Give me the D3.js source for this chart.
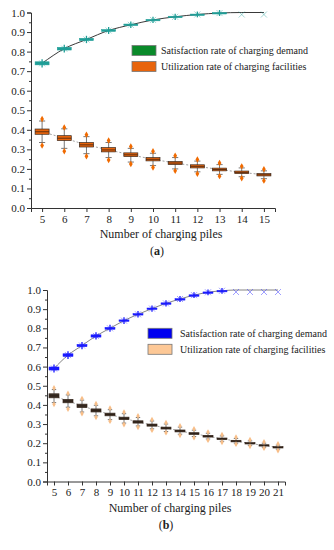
<!DOCTYPE html>
<html>
<head>
<meta charset="utf-8">
<script src="https://cdn.jsdelivr.net/npm/d3@7"></script>
<style>
  body { margin: 0; background: #fff; }
  svg { display: block; font-family: "Liberation Serif", "Times New Roman", serif; }
</style>
</head>
<body>
<svg id="chart" width="334" height="550"></svg>
<script>
// panel (a): 5..15 charging piles
const aPiles = d3.range(5, 16);
const aSat = [0.74, 0.815, 0.862, 0.908, 0.937, 0.962, 0.978, 0.99, 0.997, 1.0, 1.0];
const aSatLo = [0.732, 0.808, 0.856, 0.903, 0.933, 0.959, 0.975, 0.988, 0.995, 0.995, 0.995];
const aSatHi = [0.748, 0.822, 0.868, 0.913, 0.941, 0.965, 0.981, 0.992, 1.0, 1.0, 1.0];
const aUtil = [0.39, 0.357, 0.323, 0.297, 0.272, 0.249, 0.23, 0.213, 0.197, 0.182, 0.17];
const aUtilQ1 = [0.377, 0.345, 0.312, 0.287, 0.263, 0.241, 0.222, 0.205, 0.19, 0.176, 0.164];
const aUtilQ3 = [0.404, 0.37, 0.335, 0.309, 0.282, 0.258, 0.238, 0.221, 0.204, 0.189, 0.176];
const aUtilLo = [0.335, 0.305, 0.278, 0.258, 0.235, 0.217, 0.2, 0.185, 0.172, 0.16, 0.15];
const aUtilHi = [0.445, 0.405, 0.365, 0.335, 0.305, 0.28, 0.258, 0.24, 0.222, 0.205, 0.19];
const aUtilMin = [0.32, 0.29, 0.265, 0.245, 0.225, 0.207, 0.19, 0.175, 0.163, 0.152, 0.14];
const aUtilMax = [0.455, 0.412, 0.375, 0.345, 0.315, 0.29, 0.267, 0.248, 0.23, 0.213, 0.198];

// panel (b): 5..21 charging piles
const bPiles = d3.range(5, 22);
const bSat = [0.59, 0.66, 0.71, 0.76, 0.80, 0.84, 0.873, 0.903, 0.93, 0.953, 0.973, 0.988, 0.996, 1.0, 1.0, 1.0, 1.0];
const bSatLo = [0.582, 0.653, 0.704, 0.754, 0.795, 0.836, 0.869, 0.9, 0.927, 0.951, 0.971, 0.986, 0.994, 0.994, 0.994, 0.994, 0.994];
const bSatHi = [0.598, 0.667, 0.716, 0.766, 0.805, 0.844, 0.877, 0.906, 0.933, 0.955, 0.975, 0.99, 0.998, 1.0, 1.0, 1.0, 1.0];
const bUtil = [0.447, 0.42, 0.395, 0.371, 0.35, 0.33, 0.311, 0.295, 0.279, 0.264, 0.25, 0.236, 0.223, 0.211, 0.199, 0.188, 0.178];
const bUtilQ1 = [0.437, 0.411, 0.386, 0.363, 0.343, 0.323, 0.305, 0.289, 0.274, 0.259, 0.246, 0.232, 0.219, 0.207, 0.196, 0.185, 0.175];
const bUtilQ3 = [0.458, 0.429, 0.404, 0.379, 0.357, 0.336, 0.317, 0.3, 0.284, 0.269, 0.255, 0.241, 0.227, 0.215, 0.203, 0.192, 0.182];
const bUtilLo = [0.412, 0.388, 0.363, 0.343, 0.323, 0.305, 0.29, 0.275, 0.261, 0.247, 0.235, 0.222, 0.21, 0.2, 0.189, 0.179, 0.169];
const bUtilHi = [0.48, 0.452, 0.425, 0.398, 0.375, 0.354, 0.334, 0.316, 0.3, 0.284, 0.268, 0.252, 0.238, 0.225, 0.212, 0.2, 0.19];
const bUtilMin = [0.403, 0.378, 0.355, 0.335, 0.315, 0.298, 0.283, 0.268, 0.255, 0.241, 0.229, 0.216, 0.205, 0.195, 0.184, 0.174, 0.162];
const bUtilMax = [0.488, 0.46, 0.433, 0.406, 0.383, 0.362, 0.342, 0.323, 0.307, 0.29, 0.274, 0.258, 0.244, 0.231, 0.218, 0.206, 0.196];

const yTicks = d3.range(0, 1.01, 0.1);
const legendLabels = ["Satisfaction rate of charging demand", "Utilization rate of charging facilities"];
const xTitle = "Number of charging piles";

const svg = d3.select("#chart");

function panel(opt) {
  const g = svg.append("g");
  const x = d3.scaleLinear().domain([opt.piles[0] - 0.5, opt.piles[opt.piles.length - 1] + 0.5]).range(opt.xr);
  const y = d3.scaleLinear().domain([0, 1]).range(opt.yr);

  // axes
  const yAxis = d3.axisLeft(y).tickValues(yTicks).tickFormat(d3.format(".1f")).tickSize(4).tickPadding(2);
  const yg = g.append("g").attr("transform", `translate(${opt.xr[0]},0)`).call(yAxis);
  g.append("g").attr("transform", `translate(${opt.xr[0]},0)`)
    .call(d3.axisLeft(y).tickValues(d3.range(0.05, 1, 0.1)).tickFormat("").tickSize(2))
    .select(".domain").remove();
  const xAxis = d3.axisBottom(x).tickValues(opt.piles).tickFormat(d3.format("d")).tickSize(4).tickPadding(3);
  const xg = g.append("g").attr("transform", `translate(0,${opt.yr[0]})`).call(xAxis);
  [yg, xg].forEach(a => {
    a.attr("font-family", null);
    a.selectAll("text").attr("font-size", opt.tickFont).attr("fill", "#222");
    a.selectAll("line, path").attr("stroke", "#333");
  });
  g.selectAll(".tick line").attr("stroke", "#333");

  g.append("text").attr("x", (opt.xr[0] + opt.xr[1]) / 2 + opt.titleDx).attr("y", opt.yr[0] + 30)
    .attr("text-anchor", "middle").attr("font-size", 12).attr("fill", "#222").text(xTitle);
  g.append("text").attr("x", (opt.xr[0] + opt.xr[1]) / 2 + opt.titleDx - 4).attr("y", opt.yr[0] + 47)
    .attr("text-anchor", "middle").attr("font-size", 12).attr("fill", "#222").text("(")
    .append("tspan").attr("font-weight", "bold").text(opt.tag)
    .append("tspan").attr("font-weight", "normal").text(")");

  const bw = opt.boxW;

  // utilization lines (dashed)
  g.append("path").datum(opt.piles)
    .attr("d", d3.line().x(d => x(d)).y((d, i) => y(opt.util[i])))
    .attr("fill", "none").attr("stroke", "#888").attr("stroke-width", 0.8).attr("stroke-dasharray", "2,2");

  // utilization boxes
  const ub = g.append("g").selectAll("g").data(opt.piles).join("g");
  ub.append("line").attr("x1", d => x(d)).attr("x2", d => x(d))
    .attr("y1", (d, i) => y(opt.utilLo[i])).attr("y2", (d, i) => y(opt.utilHi[i]))
    .attr("stroke", opt.whisk).attr("stroke-width", 0.8);
  [opt.utilLo, opt.utilHi].forEach(arr => {
    ub.append("line").attr("x1", d => x(d) - bw * 0.22).attr("x2", d => x(d) + bw * 0.22)
      .attr("y1", (d, i) => y(arr[i])).attr("y2", (d, i) => y(arr[i]))
      .attr("stroke", opt.whisk).attr("stroke-width", 0.8);
  });
  ub.append("rect").attr("x", d => x(d) - bw / 2).attr("width", bw)
    .attr("y", (d, i) => y(opt.utilQ3[i])).attr("height", (d, i) => y(opt.utilQ1[i]) - y(opt.utilQ3[i]))
    .attr("fill", opt.boxFill).attr("stroke", "#3a2a20").attr("stroke-width", 0.7);
  ub.append("line").attr("x1", d => x(d) - bw / 2).attr("x2", d => x(d) + bw / 2)
    .attr("y1", (d, i) => y(opt.util[i])).attr("y2", (d, i) => y(opt.util[i]))
    .attr("stroke", "#2a1a10").attr("stroke-width", 0.7);
  const dia = d3.symbol().type(d3.symbolDiamond).size(opt.outSize);
  [opt.utilMin, opt.utilMax].forEach(arr => {
    ub.append("path").attr("d", dia)
      .attr("transform", (d, i) => `translate(${x(d)},${y(arr[i])})`).attr("fill", opt.outCol);
  });

  // satisfaction line
  g.append("path").datum(opt.piles)
    .attr("d", d3.line().curve(d3.curveMonotoneX).x(d => x(d)).y((d, i) => y(opt.sat[i])))
    .attr("fill", "none").attr("stroke", opt.satLine).attr("stroke-width", 0.9);

  // satisfaction markers (asterisk-like boxes)
  const sb = g.append("g").selectAll("g").data(opt.piles).join("g")
    .attr("stroke", opt.satMark).attr("fill", "none");
  const live = sb.filter((d, i) => opt.sat[i] < 1);
  live.append("rect")
    .attr("x", d => x(d) - bw / 2).attr("width", bw)
    .attr("y", (d, i) => y(opt.satHi[i])).attr("height", (d, i) => Math.max(1.5, y(opt.satLo[i]) - y(opt.satHi[i])))
    .attr("fill", opt.satMark).attr("stroke-width", 0.5);
  live.append("line")
    .attr("x1", d => x(d)).attr("x2", d => x(d))
    .attr("y1", (d, i) => y(opt.satHi[i]) - 2.5).attr("y2", (d, i) => y(opt.satLo[i]) + 2.5)
    .attr("stroke-width", 1.3);
  const xs = 3;
  sb.append("path")
    .attr("d", (d, i) => {
      const cx = x(d), cy = y(opt.sat[i]) + (opt.sat[i] < 1 ? 0 : 2);
      return `M${cx - xs},${cy - xs}L${cx + xs},${cy + xs}M${cx - xs},${cy + xs}L${cx + xs},${cy - xs}`;
    })
    .attr("stroke-width", 0.6).attr("opacity", 0.7);

  // legend
  const lg = g.append("g").attr("transform", `translate(${opt.leg[0]},${opt.leg[1]})`);
  [opt.legCol1, opt.legCol2].forEach((c, i) => {
    lg.append("rect").attr("x", 0).attr("y", i * 16).attr("width", 24).attr("height", 10)
      .attr("fill", c).attr("stroke", "#777").attr("stroke-width", 0.8);
    lg.append("text").attr("x", opt.legText).attr("y", i * 16 + 8.5).attr("font-size", 10)
      .attr("fill", "#222").text(legendLabels[i]);
  });
}

panel({
  tag: "a", piles: aPiles, xr: [31, 275], yr: [208, 12.5], tickFont: 11, titleDx: 8,
  sat: aSat, satLo: aSatLo, satHi: aSatHi,
  util: aUtil, utilQ1: aUtilQ1, utilQ3: aUtilQ3, utilLo: aUtilLo, utilHi: aUtilHi, utilMin: aUtilMin, utilMax: aUtilMax,
  boxW: 14, whisk: "#555", boxFill: "#e8640c", outCol: "#f06a00", outSize: 12,
  satLine: "#222", satMark: "#1f9e97",
  leg: [132, 45.5], legText: 29, legCol1: "#0a8a2a", legCol2: "#e8640c"
});

panel({
  tag: "b", piles: bPiles, xr: [47, 285], yr: [481.5, 290], tickFont: 11, titleDx: 4,
  sat: bSat, satLo: bSatLo, satHi: bSatHi,
  util: bUtil, utilQ1: bUtilQ1, utilQ3: bUtilQ3, utilLo: bUtilLo, utilHi: bUtilHi, utilMin: bUtilMin, utilMax: bUtilMax,
  boxW: 10, whisk: "#555", boxFill: "#3a3028", outCol: "#f8be88", outSize: 10,
  satLine: "#777", satMark: "#1a1aff",
  leg: [148, 328.3], legText: 32, legCol1: "#0000f0", legCol2: "#fdc896"
});
</script>
</body>
</html>
